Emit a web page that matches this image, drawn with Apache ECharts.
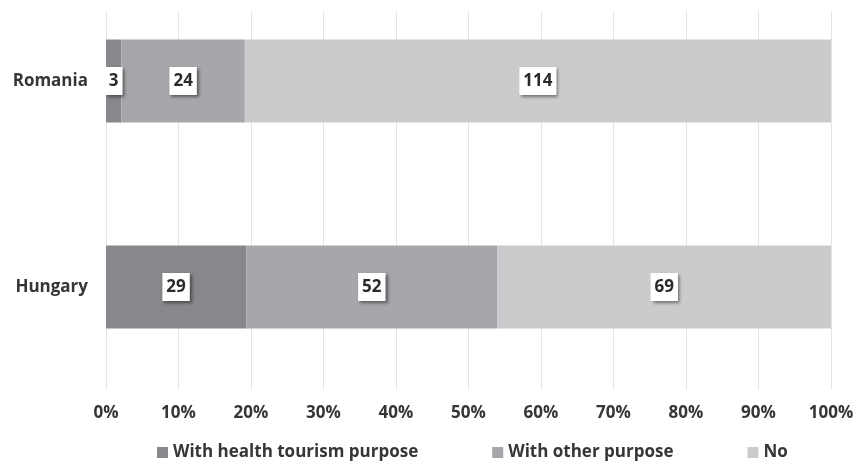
<!DOCTYPE html>
<html>
<head>
<meta charset="UTF-8">
<title>Stacked bar</title>
<style>
  html, body { margin: 0; padding: 0; background: #fff; }
  #chart { width: 859px; height: 461px; }
</style>
</head>
<body>
<div id="chart"></div>
<script src="https://cdn.jsdelivr.net/npm/echarts@6/dist/echarts.min.js"></script>
<script>
var countries = ['Hungary', 'Romania'];
var seriesNames = ['With health tourism purpose', 'With other purpose', 'No'];
var healthPurpose = [29, 3];
var otherPurpose = [52, 24];
var noTrip = [69, 114];
var colors = ['#87888c', '#a6a7ab', '#cacbcd'];

var counts = [healthPurpose, otherPurpose, noTrip];
var totals = countries.map(function (c, i) {
  return healthPurpose[i] + otherPurpose[i] + noTrip[i];
});

var font = '"Open Sans", sans-serif';
var textColor = '#363636';

var series = counts.map(function (arr, s) {
  return {
    name: seriesNames[s],
    type: 'bar',
    stack: 'total',
    barWidth: 83,
    xAxisIndex: 0,
    yAxisIndex: 0,
    itemStyle: { color: colors[s] },
    label: {
      show: true,
      position: 'inside',
      formatter: function (p) { return arr[p.dataIndex]; },
      fontFamily: font,
      fontWeight: 'bold',
      fontSize: 17,
      color: '#2a2a2a',
      backgroundColor: '#ffffff',
      padding: [6, 4, 5, 4],
      shadowColor: 'rgba(0,0,0,0.45)',
      shadowBlur: 3,
      shadowOffsetX: 2,
      shadowOffsetY: 2
    },
    data: arr.map(function (v, i) { return v / totals[i] * 100; })
  };
});

var chart = echarts.init(document.getElementById('chart'));
chart.setOption({
  animation: false,
  color: colors,
  grid: [
    // bars: category centres sit on the grid edges (boundaryGap false)
    { left: 106, right: 28, top: 81, bottom: 174 },
    // gridlines and percent labels
    { left: 106, right: 28, top: 11, bottom: 71 }
  ],
  legend: {
    left: 152,
    top: 439,
    itemWidth: 11,
    itemHeight: 11,
    itemGap: 74,
    icon: 'rect',
    data: seriesNames,
    textStyle: { fontFamily: font, fontWeight: 'bold', fontSize: 17, color: textColor }
  },
  xAxis: [{
    gridIndex: 0,
    type: 'value',
    min: 0,
    max: 100,
    interval: 10,
    show: false
  }, {
    gridIndex: 1,
    type: 'value',
    min: 0,
    max: 100,
    interval: 10,
    axisLine: { show: false },
    axisTick: { show: false },
    axisLabel: {
      formatter: '{value}%',
      margin: 15,
      fontFamily: font,
      fontWeight: 'bold',
      fontSize: 17,
      color: textColor
    },
    splitLine: { show: true, lineStyle: { color: '#e4e4e4', width: 1 } }
  }],
  yAxis: [{
    gridIndex: 0,
    type: 'category',
    boundaryGap: false,
    data: countries,
    axisLine: { show: false },
    axisTick: { show: false },
    splitLine: { show: false },
    axisLabel: {
      margin: 18,
      fontFamily: font,
      fontWeight: 'bold',
      fontSize: 17,
      color: textColor
    }
  }, {
    gridIndex: 1,
    type: 'category',
    data: [''],
    show: false
  }],
  series: series
});
</script>
</body>
</html>
